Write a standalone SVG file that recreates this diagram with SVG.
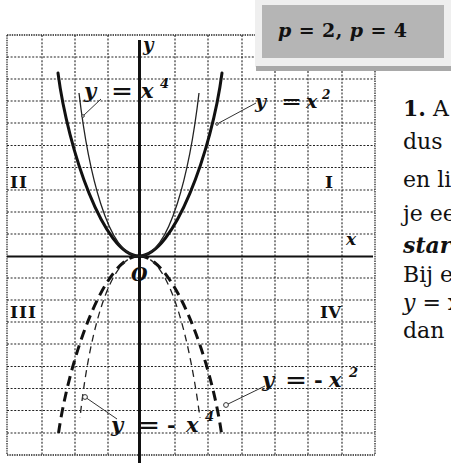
<svg xmlns="http://www.w3.org/2000/svg" width="451" height="463" viewBox="0 0 451 463">
<style>
.grid{stroke:#222;stroke-width:1.1;stroke-dasharray:2 1.6;fill:none}
.edge{stroke:#222;stroke-width:1.3;stroke-dasharray:1.4 1;fill:none}
.axis{stroke:#111;fill:none}
.thick{stroke:#111;stroke-width:3;fill:none;stroke-linecap:round}
.thin{stroke:#222;stroke-width:1.3;fill:none}
.dthick{stroke:#111;stroke-width:3;fill:none;stroke-dasharray:10 6}
.dthin{stroke:#222;stroke-width:1.3;fill:none;stroke-dasharray:7 5}
.lead{stroke:#333;stroke-width:1;fill:none}
.dot{stroke:#333;stroke-width:1;fill:#fff}
.lab{font-family:"DejaVu Serif",serif;font-weight:bold;font-style:italic;fill:#111}
.roman{font-family:"DejaVu Serif",serif;font-weight:bold;fill:#111}
.body{font-family:"DejaVu Serif",serif;font-size:22px;fill:#111}
</style>
<rect width="451" height="463" fill="#fff"/>
<g id="grid">
<path class="grid" d="M42,35V455M75,35V455M108,35V455M175,35V455M208,35V455M242,35V455M275,35V455M308,35V455M342,35V455"/>
<path class="grid" d="M7,57H375M7,79H375M7,101H375M7,123H375M7,145.5H375M7,167.5H375M7,190H375M7,212H375M7,234H375M7,278H375M7,300H375M7,322H375M7,344H375M7,366.5H375M7,388.5H375M7,410.5H375M7,433H375"/>
<path class="edge" d="M7,35H375M7,455H375M7,35V455M375,35V455"/>
</g>
<g id="axes">
<line class="axis" x1="7" y1="256.5" x2="373" y2="256.5" stroke-width="2"/>
<line class="axis" x1="139.5" y1="40" x2="139.5" y2="463" stroke-width="3"/>
</g>
<g id="curves">
<path id="x2" class="thick" d="M58,73 C68,150 104,256 139,256 C174,256 212,150 222,73"/>
<path id="x4" class="thin" d="M79,93 C88,170 108,257 139,256 C170,257 190,170 199,93"/>
<g transform="translate(0,512) scale(1,-1)">
<path id="mx2" class="dthick" d="M139,256 C104,256 68,150 58,75 M139,256 C174,256 212,150 222,75"/>
<path id="mx4" class="dthin" d="M139,256 C108,257 88,170 80,94 M139,256 C170,257 190,170 200,94"/>
</g>
</g>
<g id="connectors">
<line class="lead" x1="101" y1="99" x2="83" y2="116"/>
<circle class="dot" cx="83" cy="116" r="1.3"/>
<line class="lead" x1="256" y1="103" x2="217" y2="124"/>
<circle class="dot" cx="217" cy="124" r="1.3"/>
<line class="lead" x1="117" y1="419" x2="85" y2="397"/>
<circle class="dot" cx="85" cy="397" r="2.4"/>
<line class="lead" x1="265" y1="386" x2="226" y2="405"/>
<circle class="dot" cx="226" cy="405" r="2.4"/>
</g>
<g id="labels">
<text class="lab" x="143" y="51" font-size="18">y</text>
<text class="lab" x="346" y="245" font-size="17">x</text>
<text class="lab" x="131" y="281" font-size="19">O</text>
<text class="roman" x="10" y="188" font-size="17" letter-spacing="1">II</text>
<text class="roman" x="325" y="188" font-size="17">I</text>
<text class="roman" x="10" y="318" font-size="17" letter-spacing="1">III</text>
<text class="roman" x="320" y="318" font-size="17">IV</text>
<g id="lab-x4">
<text class="lab" x="84" y="98" font-size="21">y</text>
<text class="roman" x="111" y="98" font-size="21" textLength="22" lengthAdjust="spacingAndGlyphs">=</text>
<text class="lab" x="141" y="98" font-size="21">x</text>
<text class="lab" x="160" y="88" font-size="13">4</text>
</g>
<g id="lab-x2">
<text class="lab" x="255" y="108" font-size="19">y</text>
<text class="roman" x="281" y="108" font-size="19" textLength="21" lengthAdjust="spacingAndGlyphs">=</text>
<text class="lab" x="306" y="108" font-size="19">x</text>
<text class="lab" x="322" y="99" font-size="12">2</text>
</g>
<g id="lab-mx2">
<text class="lab" x="262" y="387" font-size="21">y</text>
<text class="roman" x="285" y="387" font-size="21" textLength="22" lengthAdjust="spacingAndGlyphs">=</text>
<text class="roman" x="314" y="387" font-size="21">-</text>
<text class="lab" x="329" y="387" font-size="21">x</text>
<text class="lab" x="349" y="377" font-size="13">2</text>
</g>
<g id="lab-mx4">
<text class="lab" x="111" y="432" font-size="21">y</text>
<text class="roman" x="138" y="432" font-size="21" textLength="22" lengthAdjust="spacingAndGlyphs">=</text>
<text class="roman" x="167" y="432" font-size="21">-</text>
<text class="lab" x="186" y="432" font-size="21">x</text>
<text class="lab" x="205" y="421" font-size="13">4</text>
</g>
</g>
<g id="formula-box">
<rect x="255" y="0" width="196" height="67" fill="#efefef"/>
<rect x="262" y="5" width="182" height="53" fill="#b5b5b5"/>
<rect x="256" y="66" width="195" height="5" fill="#a9a9a9"/>
<text x="278" y="37" font-family="DejaVu Serif,serif" font-size="19" font-weight="bold" fill="#111" textLength="129"><tspan font-style="italic">p</tspan> = 2, <tspan font-style="italic">p</tspan> = 4</text>
</g>
<g id="side-text" class="body">
<text x="403" y="116"><tspan font-weight="bold">1.</tspan> A</text>
<text x="403" y="149">dus</text>
<text x="403" y="187">en li</text>
<text x="403" y="221">je ee</text>
<text x="403" y="253" font-weight="bold" font-style="italic">star</text>
<text x="403" y="282">Bij e</text>
<text x="403" y="310"><tspan font-style="italic">y</tspan> = x</text>
<text x="403" y="338">dan</text>
</g>
</svg>
